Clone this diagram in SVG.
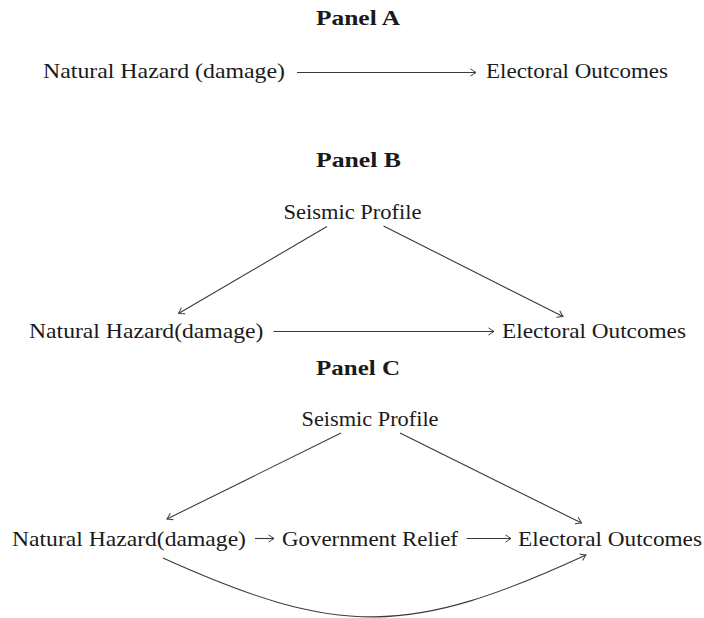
<svg xmlns="http://www.w3.org/2000/svg" width="704" height="618" viewBox="0 0 704 618">
<style>
.t{font-family:"Liberation Serif","DejaVu Serif",serif;font-size:22px;fill:#1a1a1a}
.h{font-family:"Liberation Serif","DejaVu Serif",serif;font-size:22px;font-weight:bold;fill:#1a1a1a}
.c{fill:none;stroke:#3a3a3a;stroke-width:1.1}
</style>
<defs>
<marker id="ah" viewBox="-7 -5 8 10" markerWidth="8" markerHeight="10" refX="0" refY="0" orient="auto" markerUnits="userSpaceOnUse">
<path d="M-5.5,-3.6 Q-1.6,-0.9 0,0 Q-1.6,0.9 -5.5,3.6" fill="none" stroke="#3a3a3a" stroke-width="1"/>
</marker>
</defs>
<rect width="704" height="618" fill="#ffffff"/>

<g id="titles">
<text class="h" x="316" y="25" textLength="84" lengthAdjust="spacingAndGlyphs">Panel A</text>
<text class="h" x="316" y="167" textLength="85" lengthAdjust="spacingAndGlyphs">Panel B</text>
<text class="h" x="316" y="375" textLength="84" lengthAdjust="spacingAndGlyphs">Panel C</text>
</g>

<g id="a-hazard"><text class="t" x="43" y="78" textLength="242" lengthAdjust="spacingAndGlyphs">Natural Hazard (damage)</text></g>
<g id="a-electoral"><text class="t" x="486" y="78" textLength="182" lengthAdjust="spacingAndGlyphs">Electoral Outcomes</text></g>

<g id="b-seismic"><text class="t" x="283.5" y="219" textLength="138" lengthAdjust="spacingAndGlyphs">Seismic Profile</text></g>
<g id="b-hazard"><text class="t" x="29" y="338" textLength="234.5" lengthAdjust="spacingAndGlyphs">Natural Hazard(damage)</text></g>
<g id="b-electoral"><text class="t" x="502" y="338" textLength="184" lengthAdjust="spacingAndGlyphs">Electoral Outcomes</text></g>

<g id="c-seismic"><text class="t" x="301.5" y="426" textLength="137" lengthAdjust="spacingAndGlyphs">Seismic Profile</text></g>
<g id="c-hazard"><text class="t" x="12" y="546" textLength="234" lengthAdjust="spacingAndGlyphs">Natural Hazard(damage)</text></g>
<g id="c-relief"><text class="t" x="282" y="546" textLength="176" lengthAdjust="spacingAndGlyphs">Government Relief</text></g>
<g id="c-electoral"><text class="t" x="518" y="546" textLength="184" lengthAdjust="spacingAndGlyphs">Electoral Outcomes</text></g>

<g id="connectors">
<line class="c" x1="297" y1="72.5" x2="476" y2="72.5" marker-end="url(#ah)"/>

<line class="c" x1="327" y1="226.5" x2="178.5" y2="313.5" marker-end="url(#ah)"/>
<line class="c" x1="383.5" y1="226" x2="563" y2="316.5" marker-end="url(#ah)"/>
<line class="c" x1="273.5" y1="331.5" x2="494" y2="331.5" marker-end="url(#ah)"/>

<line class="c" x1="341" y1="433" x2="167" y2="519" marker-end="url(#ah)"/>
<line class="c" x1="400" y1="433" x2="581.5" y2="523" marker-end="url(#ah)"/>
<line class="c" x1="255" y1="538.5" x2="274" y2="538.5" marker-end="url(#ah)"/>
<line class="c" x1="466.5" y1="538.5" x2="511" y2="538.5" marker-end="url(#ah)"/>
<path class="c" d="M163,558 C340,638 410,636 586,555" marker-end="url(#ah)"/>
</g>
</svg>
